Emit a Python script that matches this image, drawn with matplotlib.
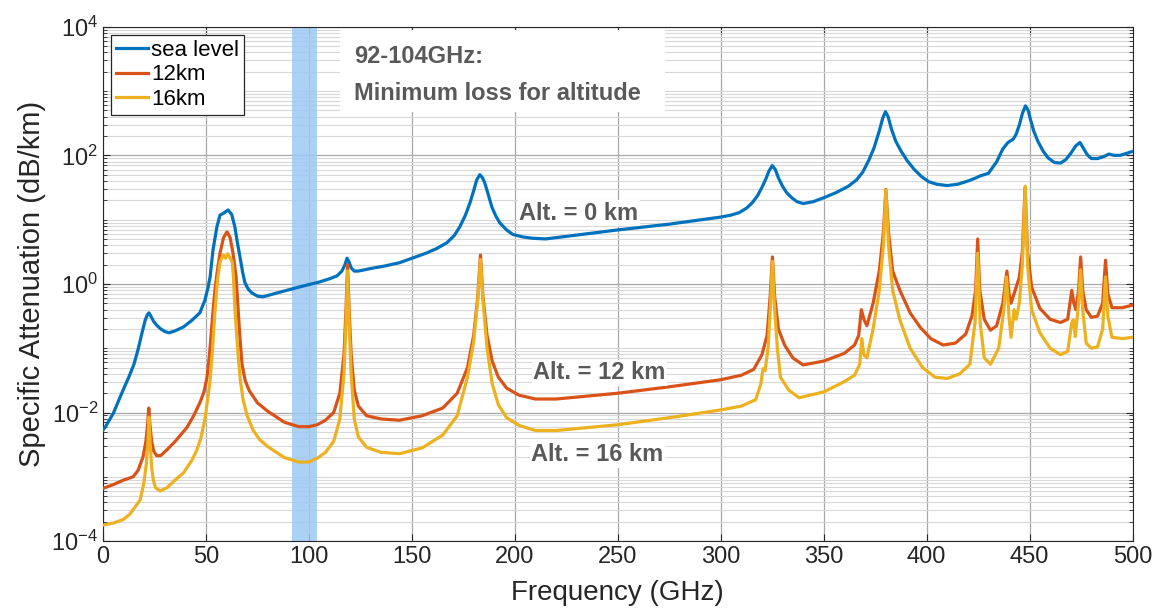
import numpy as np
import matplotlib.pyplot as plt
from matplotlib.ticker import FixedLocator, LogFormatterMathtext, NullFormatter
from matplotlib.patches import Rectangle

plt.rcParams['font.family'] = ['Liberation Sans', 'DejaVu Sans']
plt.rcParams['mathtext.fontset'] = 'custom'
plt.rcParams['mathtext.rm'] = 'Liberation Sans'
plt.rcParams['mathtext.it'] = 'Liberation Sans'

# --- data: frequency (GHz) and log10(attenuation dB/km) ---
sea_f = [0, 1, 3, 5, 7.5, 10, 12.5, 15, 17, 19, 20.5, 21.5, 22.3, 23.2, 24.5, 26, 28,
         30, 32, 35, 39, 43, 47, 49.5, 51, 52, 53.4, 55.3, 56.8, 58.5, 60.7, 62.5, 64,
         65.2, 66.5, 67.8, 68.9, 70.5, 72.3, 75, 77.7, 84.5, 95, 105, 110, 113.6, 116,
         117.5, 118.5, 119.5, 120.5, 122, 124, 130, 137, 144, 150, 157, 162, 167,
         170.5, 173.3, 176, 178.2, 180, 181.5, 183, 184.3, 185.4, 187, 188.8, 190.7,
         192.7, 196, 199, 204, 208.7, 215, 230, 250, 275, 300, 305, 309, 312.6, 315.5,
         318, 320, 322, 323.5, 325, 326.5, 328, 330, 332, 334.5, 337, 340, 345, 350,
         356, 362, 366, 369, 372, 374.5, 377, 378.7, 380, 381.3, 383, 385, 387.5,
         390.5, 394, 397.5, 401, 405, 410, 415, 420, 424, 426, 430, 434, 437, 439.5,
         442, 443.5, 445, 446.5, 448, 449.3, 450.5, 452, 454, 456.5, 459, 462, 465,
         467.5, 470, 472.5, 474.5, 476, 478, 480, 483, 486, 488.5, 491, 494, 497, 500]
sea_lg = [-2.27, -2.23, -2.12, -2.01, -1.82, -1.63, -1.45, -1.25, -1.02, -0.75, -0.56,
          -0.48, -0.45, -0.50, -0.58, -0.64, -0.70, -0.74, -0.76, -0.73, -0.67, -0.57,
          -0.45, -0.25, -0.05, 0.11, 0.53, 0.89, 1.07, 1.10, 1.15, 1.08, 0.89, 0.65,
          0.42, 0.18, 0.02, -0.08, -0.14, -0.19, -0.20, -0.14, -0.05, 0.03, 0.08, 0.125,
          0.20, 0.30, 0.40, 0.34, 0.25, 0.20, 0.20, 0.24, 0.28, 0.33, 0.40, 0.48, 0.55,
          0.64, 0.75, 0.89, 1.07, 1.26, 1.45, 1.62, 1.70, 1.65, 1.57, 1.40, 1.20, 1.06,
          0.95, 0.84, 0.77, 0.73, 0.71, 0.70, 0.76, 0.84, 0.93, 1.04, 1.07, 1.11, 1.18,
          1.27, 1.38, 1.50, 1.64, 1.76, 1.84, 1.78, 1.65, 1.52, 1.42, 1.34, 1.28, 1.25,
          1.28, 1.34, 1.42, 1.52, 1.62, 1.74, 1.93, 2.12, 2.38, 2.58, 2.68, 2.60, 2.40,
          2.22, 2.07, 1.92, 1.78, 1.67, 1.59, 1.55, 1.53, 1.55, 1.60, 1.65, 1.68, 1.72,
          1.90, 2.10, 2.20, 2.25, 2.33, 2.47, 2.65, 2.77, 2.70, 2.55, 2.38, 2.22, 2.07,
          1.96, 1.89, 1.88, 1.93, 2.03, 2.15, 2.20, 2.12, 2.01, 1.95, 1.95, 1.98, 2.02,
          2.00, 2.00, 2.03, 2.06]

km12_f = [0, 5, 10, 14.6, 17, 19.4, 20.8, 21.6, 22.2, 22.8, 23.6, 24.6, 26, 28, 31, 35,
          40.8, 44, 47, 49, 50.5, 51.7, 52.7, 53.6, 54.5, 55.5, 56.8, 58.5, 60.2, 61.7,
          63.1, 64.6, 65.5, 66.5, 67.5, 69, 71, 75, 80, 88, 95, 100, 104, 108, 112, 115,
          117, 118, 118.75, 119.5, 120.5, 122, 124, 128, 135, 144, 155, 165, 172, 177,
          180, 182, 183.3, 184.5, 186.5, 189, 192, 196, 202, 210, 220, 250, 275, 300,
          310, 316, 320, 322.5, 324, 325.1, 326.2, 328, 331, 335, 340, 350, 360, 365,
          367, 368.3, 369.5, 371, 374, 377, 379, 380.2, 381.5, 383.5, 387, 392, 397,
          402, 408, 414, 419, 422, 423.8, 424.8, 425.8, 428, 431, 434, 437, 439, 440,
          441, 443, 445, 446.5, 447.8, 449, 451, 455, 460, 465, 468.5, 470.5, 471.5,
          472.5, 473.8, 474.8, 475.8, 477.5, 480, 483, 485.5, 486.9, 488, 490, 495, 500]
km12_lg = [-3.18, -3.12, -3.05, -3.00, -2.90, -2.69, -2.45, -2.20, -1.93, -2.20, -2.45,
           -2.60, -2.67, -2.67, -2.58, -2.45, -2.23, -2.05, -1.85, -1.68, -1.45, -1.10,
           -0.70, -0.35, -0.05, 0.20, 0.48, 0.72, 0.81, 0.72, 0.48, 0.11, -0.35, -0.85,
           -1.25, -1.50, -1.66, -1.85, -1.98, -2.15, -2.22, -2.22, -2.19, -2.12, -2.00,
           -1.70, -1.10, -0.40, 0.30, -0.40, -1.10, -1.65, -1.90, -2.05, -2.10, -2.12,
           -2.05, -1.93, -1.70, -1.30, -0.80, -0.20, 0.45, -0.20, -0.80, -1.20, -1.45,
           -1.62, -1.73, -1.79, -1.79, -1.70, -1.60, -1.49, -1.42, -1.33, -1.10, -0.80,
           -0.20, 0.42, -0.20, -0.70, -0.95, -1.15, -1.26, -1.20, -1.08, -0.95, -0.80,
           -0.40, -0.55, -0.65, -0.30, 0.20, 0.80, 1.47, 0.80, 0.20, -0.10, -0.45,
           -0.68, -0.85, -0.95, -0.92, -0.78, -0.50, -0.10, 0.70, -0.10, -0.55, -0.72,
           -0.65, -0.30, 0.20, -0.15, -0.30, -0.10, 0.10, 0.50, 1.50, 0.50, -0.05,
           -0.38, -0.55, -0.60, -0.55, -0.10, -0.30, -0.40, -0.10, 0.42, -0.10, -0.40,
           -0.52, -0.50, -0.30, 0.37, -0.15, -0.37, -0.37, -0.33]

km16_f = [0, 5, 10, 13, 16, 18, 19.8, 21, 21.8, 22.3, 22.9, 23.6, 24.4, 25.5, 27.7, 31,
          35, 39, 43, 45.6, 47.5, 49.5, 51, 52, 53.2, 54.3, 55.3, 55.8, 56.8, 57.6, 58.4,
          59.5, 60.5, 61.7, 62.8, 63.3, 64, 64.8, 65.7, 66.7, 68, 70, 72.8, 76, 80, 88,
          95, 100, 104, 108, 112, 115, 117, 118, 118.75, 119.5, 120.5, 122, 124, 128,
          135, 144, 155, 165, 172, 177, 180, 182, 183.3, 184.5, 186.5, 189, 192, 196,
          202, 210, 220, 250, 275, 300, 310, 317, 319.5, 320.5, 321.5, 323, 324.2,
          325.1, 326, 327.5, 329, 333, 338, 350, 360, 365, 367.5, 368.5, 369.5, 371,
          374, 377, 379, 380.2, 381.5, 383.5, 387, 392, 398, 404, 410, 416, 421, 423.5,
          424.8, 426, 428, 431, 435, 437.5, 438.8, 440, 441, 442.5, 443.5, 445, 446.5,
          447.9, 449, 451, 455, 460, 465, 468.5, 470.5, 471.3, 472.2, 473.8, 474.8,
          475.8, 477.5, 480, 483, 485.5, 486.9, 488, 490, 495, 500]
km16_lg = [-3.75, -3.72, -3.66, -3.58, -3.45, -3.36, -3.10, -2.80, -2.45, -2.07, -2.50,
           -2.85, -3.05, -3.17, -3.22, -3.17, -3.05, -2.94, -2.75, -2.58, -2.40, -2.10,
           -1.75, -1.49, -1.00, -0.45, -0.05, 0.11, 0.34, 0.40, 0.45, 0.40, 0.47, 0.40,
           0.34, 0.11, -0.35, -0.75, -1.15, -1.50, -1.80, -2.05, -2.27, -2.42, -2.53,
           -2.70, -2.77, -2.77, -2.71, -2.62, -2.45, -2.10, -1.40, -0.60, 0.20, -0.60,
           -1.40, -2.10, -2.38, -2.54, -2.62, -2.64, -2.55, -2.35, -2.05, -1.45, -0.90,
           -0.25, 0.38, -0.25, -1.00, -1.55, -1.88, -2.08, -2.20, -2.28, -2.28, -2.19,
           -2.08, -1.96, -1.90, -1.80, -1.55, -1.32, -1.35, -1.00, -0.30, 0.35, -0.30,
           -1.00, -1.45, -1.65, -1.77, -1.68, -1.52, -1.42, -1.25, -0.85, -1.10, -1.15,
           -0.70, -0.10, 0.60, 1.46, 0.60, -0.10, -0.56, -1.00, -1.30, -1.45, -1.47,
           -1.40, -1.25, -0.60, 0.48, -0.60, -1.15, -1.25, -1.00, -0.40, 0.11, -0.50,
           -0.83, -0.40, -0.55, -0.30, 0.30, 1.52, 0.30, -0.40, -0.76, -1.00, -1.10,
           -1.05, -0.60, -0.56, -0.82, -0.30, 0.22, -0.40, -0.92, -1.00, -0.98, -0.70,
           0.11, -0.50, -0.83, -0.85, -0.83]

band = (92, 104)
x_ticks = list(range(0, 501, 50))
y_major = [1e-4, 1e-2, 1e0, 1e2, 1e4]

fig = plt.figure(figsize=(11.58, 6.08), dpi=100)
ax = fig.add_axes([0.089, 0.110, 0.889, 0.846])

ax.axvspan(band[0], band[1], color='#9cc9f4', alpha=0.85, lw=0, zorder=1)

ax.semilogy(sea_f, np.power(10.0, sea_lg), color='#0072BD', lw=2.3, label='sea level', zorder=3)
ax.semilogy(km12_f, np.power(10.0, km12_lg), color='#D95319', lw=2.3, label='12km', zorder=3)
ax.semilogy(km16_f, np.power(10.0, km16_lg), color='#EDB120', lw=2.3, label='16km', zorder=3)

ax.set_xlim(0, 500)
ax.set_ylim(1e-4, 1e4)
ax.set_xticks(x_ticks)
ax.yaxis.set_major_locator(FixedLocator(y_major))
ax.yaxis.set_major_formatter(LogFormatterMathtext())
minor = [m * 10.0 ** e for e in range(-4, 4) for m in range(1, 10)]
minor = [v for v in minor if v not in y_major]
ax.yaxis.set_minor_locator(FixedLocator(minor))
ax.yaxis.set_minor_formatter(NullFormatter())

ax.grid(True, which='major', color='#a8a8a8', lw=0.9, zorder=0)
ax.grid(True, which='minor', axis='y', color='#d8d8d8', lw=0.8, zorder=0)
ax.set_axisbelow(True)
ax.tick_params(which='both', direction='in', top=True, right=True, colors='#262626')
ax.tick_params(which='major', length=5, labelsize=17)
ax.tick_params(which='minor', length=3)
for s in ax.spines.values():
    s.set_color('#262626')

ax.set_xlabel('Frequency (GHz)', fontsize=20, color='#262626', labelpad=9)
ax.set_ylabel('Specific Attenuation (dB/km)', fontsize=21, color='#262626', labelpad=4)

leg = ax.legend(loc='upper left', fontsize=16, fancybox=False, framealpha=1,
                edgecolor='#262626', handlelength=1.4, handletextpad=0.15,
                borderpad=0.25, labelspacing=0.15, borderaxespad=0.35)
leg.get_frame().set_linewidth(0.9)

# annotation box for the band
ax.add_patch(Rectangle((115, 10 ** 2.68), 158, 10 ** 3.95 - 10 ** 2.68,
                       facecolor='white', edgecolor='none', zorder=4))
tc = '#595959'
ax.text(122, 10 ** 3.53, '92-104GHz:', fontsize=17, fontweight='bold', color=tc,
        va='center', zorder=5)
ax.text(122, 10 ** 2.96, 'Minimum loss for altitude', fontsize=17, fontweight='bold',
        color=tc, va='center', zorder=5)

for x, lg, s in [(231, 1.10, 'Alt. = 0 km'), (241, -1.385, 'Alt. = 12 km'),
                 (240, -2.66, 'Alt. = 16 km')]:
    ax.text(x, 10 ** lg, s, fontsize=17, fontweight='bold', color=tc,
            ha='center', va='center', zorder=5,
            bbox=dict(facecolor='white', edgecolor='none', pad=1))

fig.savefig('out.png', dpi=100)
